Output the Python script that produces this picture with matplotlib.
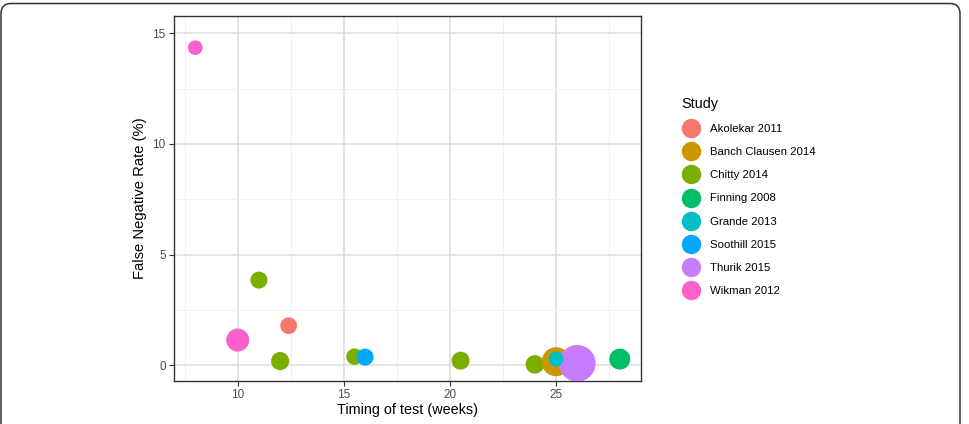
import matplotlib
matplotlib.use("Agg")
import matplotlib.pyplot as plt
from matplotlib.lines import Line2D
from matplotlib.patches import FancyBboxPatch
from matplotlib.transforms import IdentityTransform

plt.rcParams['font.family'] = ['Liberation Sans', 'DejaVu Sans']

# studies in legend order, with ggplot hue colours
studies = ["Akolekar 2011", "Banch Clausen 2014", "Chitty 2014", "Finning 2008",
           "Grande 2013", "Soothill 2015", "Thurik 2015", "Wikman 2012"]
colors = ["#F8766D", "#CD9600", "#7CAE00", "#00BE67",
          "#00BFC4", "#00A9FF", "#C77CFF", "#FF61CC"]

# one row per point (drawing order)
study = ["Wikman 2012", "Wikman 2012", "Chitty 2014", "Akolekar 2011", "Chitty 2014",
         "Chitty 2014", "Soothill 2015", "Chitty 2014", "Chitty 2014",
         "Banch Clausen 2014", "Thurik 2015", "Grande 2013", "Finning 2008"]
weeks = [8, 10, 11, 12.4, 12, 15.5, 16, 20.5, 24, 25, 26, 25, 28]
fnr = [14.35, 1.14, 3.85, 1.79, 0.19, 0.39, 0.37, 0.21, 0.04, 0.16, 0.09, 0.28, 0.28]
# relative study size (bubble area)
weight = [215, 530, 289, 280, 330, 270, 289, 324, 342, 841, 1347, 225, 441]

fig = plt.figure(figsize=(9.69, 4.24), dpi=100)
ax = fig.add_axes([0.1796, 0.1014, 0.4819, 0.8608])

cmap = dict(zip(studies, colors))
for i in range(len(weeks)):
    ax.scatter(weeks[i], fnr[i], s=weight[i] * 0.5184, color=cmap[study[i]],
               edgecolors='none', zorder=3)

ax.set_xlim(7.0, 29.0)
ax.set_ylim(-0.71, 15.78)
ax.set_xticks([10, 15, 20, 25])
ax.set_yticks([0, 5, 10, 15])
ax.set_xticks([7.5, 12.5, 17.5, 22.5, 27.5], minor=True)
ax.set_yticks([2.5, 7.5, 12.5], minor=True)
ax.grid(which='major', color='#dcdcdc', lw=1.1, zorder=0)
ax.grid(which='minor', color='#f0f0f0', lw=0.6, zorder=0)
ax.set_axisbelow(True)
ax.tick_params(which='minor', length=0)
ax.tick_params(which='major', length=3.5, width=0.8, color='#333333',
               labelcolor='#4d4d4d', labelsize=8.5, pad=2.5)
for sp in ax.spines.values():
    sp.set_color('#333333')
    sp.set_linewidth(1.0)

ax.set_xlabel("Timing of test (weeks)", fontsize=10.4, color='black', labelpad=1)
ax.set_ylabel("False Negative Rate (%)", fontsize=10.6, color='black', labelpad=4)

handles = [Line2D([], [], marker='o', linestyle='', markersize=14,
                  markerfacecolor=c, markeredgecolor='none') for c in colors]
leg = fig.legend(handles, studies, title="Study", loc='upper left',
                 bbox_to_anchor=(672 / 969, 1 - 88 / 424), frameon=False,
                 fontsize=8.2, title_fontsize=10.4, labelspacing=1.15,
                 handlelength=1.75, handletextpad=0.8, borderpad=0.3)
leg._legend_box.align = "left"

frame = FancyBboxPatch((1, -20), 959, 440.5, boxstyle="round,pad=0,rounding_size=10",
                       transform=IdentityTransform(), facecolor='none',
                       edgecolor='#333333', lw=1.1)
fig.add_artist(frame)

fig.savefig("out.png", dpi=100)
